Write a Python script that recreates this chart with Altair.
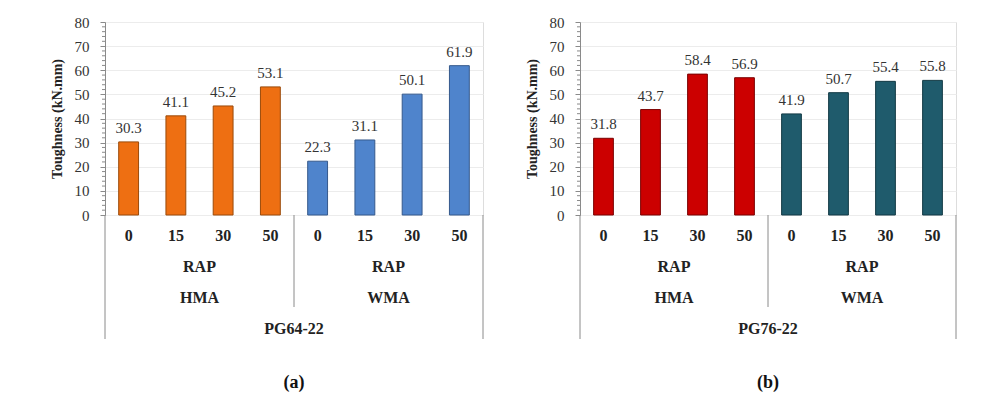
import altair as alt
import pandas as pd

# ---- data ----
rap_levels = ["0", "15", "30", "50"]
mixes = ["HMA", "WMA"]
pg64_hma = [30.3, 41.1, 45.2, 53.1]
pg64_wma = [22.3, 31.1, 50.1, 61.9]
pg76_hma = [31.8, 43.7, 58.4, 56.9]
pg76_wma = [41.9, 50.7, 55.4, 55.8]
major_ticks = [0, 10, 20, 30, 40, 50, 60, 70, 80]
minor_ticks = [v for v in range(0, 81, 2) if v % 10 != 0]

FONT = "Liberation Serif"
H = 193
YTITLE = "Toughness (kN.mm)"


def panel(hma, wma, binder, tag, colors, strokes, width):
    rows = []
    for gi, (mix, vals) in enumerate(zip(mixes, [hma, wma])):
        for ri, (r, v) in enumerate(zip(rap_levels, vals)):
            idx = gi * 4 + ri
            rows.append({"idx": idx, "x0": idx - 0.21, "x1": idx + 0.21,
                         "rap": r, "mix": mix, "value": v,
                         "fill": colors[gi], "edge": strokes[gi]})
    df = pd.DataFrame(rows)
    groups = pd.DataFrame({"c": [1.5, 5.5], "mix": mixes, "rap": ["RAP", "RAP"]})
    top = pd.DataFrame({"c": [3.5], "name": [binder], "tag": [tag]})
    outer = pd.DataFrame({"p": [-0.5, 7.5]})
    sep = pd.DataFrame({"p": [3.5]})
    minor = pd.DataFrame({"value": minor_ticks})

    xs = alt.Scale(domain=[-0.5, 7.5], nice=False, zero=False)
    ys = alt.Scale(domain=[0, 80], nice=False)
    yax = alt.Axis(values=major_ticks, grid=True, gridColor="#ececec",
                   domainColor="#8a8a8a", tickColor="#8a8a8a", tickSize=5,
                   labelPadding=11, labelFont=FONT, labelFontSize=15,
                   labelColor="#333", labelOverlap=False,
                   titleFont=FONT, titleFontSize=14,
                   titleFontWeight="bold", titleColor="#222", titlePadding=10)

    bars = alt.Chart(df).mark_bar(strokeWidth=1).encode(
        x=alt.X("x0:Q", scale=xs, axis=None),
        x2="x1:Q",
        y=alt.Y("value:Q", scale=ys, axis=yax, title=YTITLE),
        y2=alt.datum(0),
        fill=alt.Fill("fill:N", scale=None),
        stroke=alt.Stroke("edge:N", scale=None),
    )
    vlabels = alt.Chart(df).mark_text(font=FONT, fontSize=15, color="#333",
                                      baseline="alphabetic", dy=-9).encode(
        x=alt.X("idx:Q", scale=xs, axis=None),
        y=alt.Y("value:Q", scale=ys, axis=yax, title=YTITLE),
        text=alt.Text("value:Q", format=".1f"),
    )
    bold = dict(font=FONT, fontSize=16, fontWeight="bold", color="#222", baseline="middle")
    raplab = alt.Chart(df).mark_text(**bold).encode(
        x=alt.X("idx:Q", scale=xs, axis=None),
        y=alt.value(H + 21),
        text="rap:N",
    )
    raptxt = alt.Chart(groups).mark_text(**bold).encode(
        x=alt.X("c:Q", scale=xs, axis=None), y=alt.value(H + 52), text="rap:N")
    mixtxt = alt.Chart(groups).mark_text(**bold).encode(
        x=alt.X("c:Q", scale=xs, axis=None), y=alt.value(H + 83), text="mix:N")
    bindtxt = alt.Chart(top).mark_text(**bold).encode(
        x=alt.X("c:Q", scale=xs, axis=None), y=alt.value(H + 114), text="name:N")
    tagtxt = alt.Chart(top).mark_text(font=FONT, fontSize=18, fontWeight="bold",
                                      color="#111", baseline="middle").encode(
        x=alt.X("c:Q", scale=xs, axis=None), y=alt.value(H + 168), text="tag:N")
    outer_r = alt.Chart(outer).mark_rule(color="#8a8a8a", strokeWidth=1).encode(
        x=alt.X("p:Q", scale=xs, axis=None), y=alt.value(H), y2=alt.value(H + 124))
    sep_r = alt.Chart(sep).mark_rule(color="#8a8a8a", strokeWidth=1).encode(
        x=alt.X("p:Q", scale=xs, axis=None), y=alt.value(H), y2=alt.value(H + 92))
    minor_r = alt.Chart(minor).mark_rule(color="#8a8a8a", strokeWidth=1).encode(
        y=alt.Y("value:Q", scale=ys, axis=yax, title=YTITLE),
        x=alt.value(-3), x2=alt.value(0))

    layers = [bars, vlabels, raplab, raptxt, mixtxt, bindtxt, tagtxt, outer_r, sep_r, minor_r]
    return alt.layer(*layers).properties(width=width, height=H)


left = panel(pg64_hma, pg64_wma, "PG64-22", "(a)",
             ["#EE6F12", "#4F84CC"], ["#9a4a0a", "#35598c"], 378)
right = panel(pg76_hma, pg76_wma, "PG76-22", "(b)",
              ["#CC0000", "#1F5B6C"], ["#7a0000", "#123944"], 376)

chart = alt.hconcat(left, right, spacing=40).properties(
    padding={"left": 41, "top": 6, "right": 5, "bottom": 5}
).configure_view(stroke="#8a8a8a", strokeWidth=1).configure(background="white")

chart.save("out.html", embed_options={"renderer": "svg", "actions": False})
